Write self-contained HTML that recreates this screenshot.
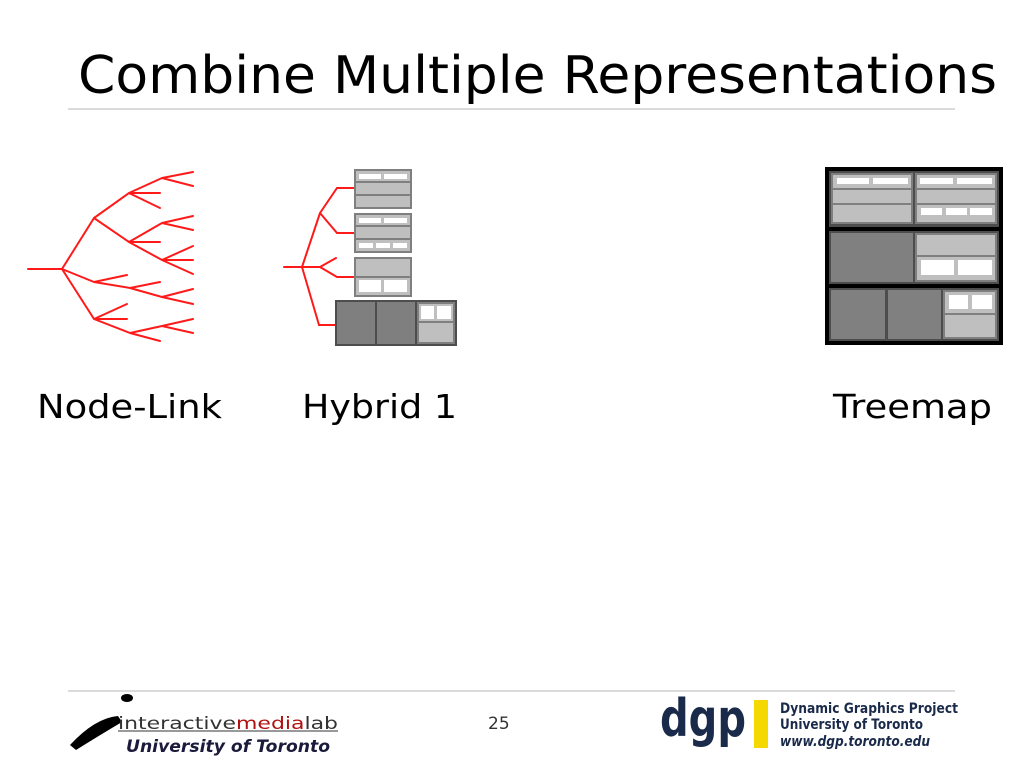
<!DOCTYPE html>
<html><head><meta charset="utf-8"><style>
html,body{margin:0;padding:0;background:#fff}
svg{display:block}
text{font-family:"DejaVu Sans","Liberation Sans",sans-serif}
</style></head><body>
<svg width="1024" height="768" viewBox="0 0 1024 768" xmlns="http://www.w3.org/2000/svg">
<text x="78" y="93" font-size="52" textLength="919" lengthAdjust="spacingAndGlyphs">Combine Multiple Representations</text>
<line x1="68" y1="109" x2="955" y2="109" stroke="#cfcfcf" stroke-width="1.5"/>

<!-- Node-link -->
<g stroke="#ff1a1a" stroke-width="2" fill="none" stroke-linecap="round">
<path d="M28 269H62 M62 269L94 218 M62 269L94 282 M62 269L94 319
M94 218L129 193 M94 218L129 242
M129 193L162 178 M162 178L193 172 M162 178L193 186 M129 193L160 193 M129 193L160 208
M129 242L162 223 M162 223L193 216 M162 223L193 230 M129 242L160 242 M129 242L162 260 M162 260L193 246 M162 260L193 260 M162 260L193 274
M94 282L127 275 M94 282L130 288 M130 288L160 282 M130 288L162 297 M162 297L193 289 M162 297L193 304
M94 319L127 304 M94 319L127 319 M94 319L130 333 M130 333L160 341 M130 333L162 326 M162 326L193 319 M162 326L193 333"/>
<!-- hybrid -->
<path d="M284 267H302 M302 267L320 213 M320 213L337 188H355 M320 213L337 233H355 M302 267H320 M320 267L336 258 M320 267L337 277H355 M302 267L319 325H336"/>
</g>

<!-- hybrid boxes -->
<g stroke="#7f7f7f" stroke-width="2">
<rect x="355" y="170" width="56" height="38" fill="#bfbfbf"/>
<line x1="355" y1="182" x2="411" y2="182"/><line x1="355" y1="195" x2="411" y2="195"/>
<rect x="355" y="214" width="56" height="38" fill="#bfbfbf"/>
<line x1="355" y1="226" x2="411" y2="226"/><line x1="355" y1="239" x2="411" y2="239"/>
<rect x="355" y="258" width="56" height="38" fill="#bfbfbf"/>
<line x1="355" y1="277" x2="411" y2="277"/>
</g>
<g fill="#fff">
<rect x="359" y="174" width="22" height="5"/><rect x="384" y="174" width="23" height="5"/>
<rect x="359" y="218" width="22" height="5"/><rect x="384" y="218" width="23" height="5"/>
<rect x="359" y="243" width="14" height="5"/><rect x="376" y="243" width="14" height="5"/><rect x="393" y="243" width="14" height="5"/>
<rect x="359" y="280" width="22" height="12"/><rect x="384" y="280" width="23" height="12"/>
</g>
<rect x="336" y="301" width="120" height="44" fill="#7f7f7f" stroke="#4d4d4d" stroke-width="2"/>
<line x1="376" y1="301" x2="376" y2="345" stroke="#4d4d4d" stroke-width="2"/>
<line x1="416" y1="301" x2="416" y2="345" stroke="#4d4d4d" stroke-width="2"/>
<rect x="418" y="303" width="36" height="40" fill="#bfbfbf" stroke="#7f7f7f" stroke-width="2"/>
<line x1="418" y1="322" x2="454" y2="322" stroke="#7f7f7f" stroke-width="2"/>
<rect x="421" y="306" width="13" height="13" fill="#fff"/><rect x="437" y="306" width="14" height="13" fill="#fff"/>

<!-- treemap -->
<rect x="825" y="167" width="178" height="178" fill="#000"/>
<rect x="829" y="171" width="170" height="56" fill="#4d4d4d"/>
<rect x="829" y="231" width="170" height="53" fill="#4d4d4d"/>
<rect x="829" y="288" width="170" height="53" fill="#4d4d4d"/>
<!-- row1 -->
<g fill="#bfbfbf" stroke="#7f7f7f" stroke-width="2">
<rect x="832" y="174" width="80" height="49"/><line x1="832" y1="189" x2="912" y2="189"/><line x1="832" y1="204" x2="912" y2="204"/>
<rect x="916" y="174" width="80" height="49"/><line x1="916" y1="189" x2="996" y2="189"/><line x1="916" y1="204" x2="996" y2="204"/>
<rect x="916" y="234" width="80" height="47"/><line x1="916" y1="256" x2="996" y2="256"/>
<rect x="944" y="291" width="52" height="47"/><line x1="944" y1="314" x2="996" y2="314"/>
</g>
<g fill="#808080">
<rect x="831" y="233" width="82" height="49"/>
<rect x="831" y="290" width="54" height="49"/>
<rect x="888" y="290" width="53" height="49"/>
</g>
<g fill="#fff">
<rect x="837" y="178" width="32" height="6"/><rect x="873" y="178" width="35" height="6"/>
<rect x="920" y="178" width="33" height="6"/><rect x="957" y="178" width="35" height="6"/>
<rect x="921" y="208" width="21" height="7"/><rect x="946" y="208" width="21" height="7"/><rect x="970" y="208" width="22" height="7"/>
<rect x="921" y="260" width="33" height="15"/><rect x="958" y="260" width="34" height="15"/>
<rect x="949" y="295" width="19" height="14"/><rect x="972" y="295" width="20" height="14"/>
</g>

<text x="37" y="418" font-size="33" textLength="185" lengthAdjust="spacingAndGlyphs">Node-Link</text>
<text x="302" y="418" font-size="33" textLength="155" lengthAdjust="spacingAndGlyphs">Hybrid 1</text>
<text x="833" y="418" font-size="33" textLength="159" lengthAdjust="spacingAndGlyphs">Treemap</text>

<line x1="68" y1="691" x2="955" y2="691" stroke="#cfcfcf" stroke-width="1.5"/>
<!-- iml logo -->
<path d="M70 745 Q95 718 118 716 L122 722 Q100 735 76 750 Z" fill="#000"/>
<ellipse cx="127" cy="698" rx="6" ry="4" fill="#000"/>
<text x="118" y="729" font-size="17" font-family="Liberation Sans" fill="#333" textLength="220" lengthAdjust="spacingAndGlyphs">interactive<tspan fill="#b01010">media</tspan>lab</text>
<line x1="118" y1="731" x2="338" y2="731" stroke="#333" stroke-width="1"/>
<text x="126" y="752" font-size="17" font-family="Liberation Sans" font-weight="bold" font-style="italic" fill="#1a1a3a" textLength="204" lengthAdjust="spacingAndGlyphs">University of Toronto</text>
<text x="488" y="729" font-size="17" font-family="Liberation Sans" fill="#333">25</text>
<!-- dgp -->
<text x="660" y="736" font-size="52" font-family="Liberation Sans" font-weight="bold" fill="#1a2a4a" textLength="86" lengthAdjust="spacingAndGlyphs">dgp</text>
<rect x="754" y="700" width="14" height="48" fill="#f5d800"/>
<text x="780" y="713" font-size="14" font-family="Liberation Sans" font-weight="bold" fill="#1a2a4a" textLength="178" lengthAdjust="spacingAndGlyphs">Dynamic Graphics Project</text>
<text x="780" y="729" font-size="14" font-family="Liberation Sans" font-weight="bold" fill="#1a2a4a" textLength="143" lengthAdjust="spacingAndGlyphs">University of Toronto</text>
<text x="780" y="746" font-size="14" font-family="Liberation Sans" font-weight="bold" font-style="italic" fill="#1a2a4a" textLength="150" lengthAdjust="spacingAndGlyphs">www.dgp.toronto.edu</text>
</svg>
</body></html>
